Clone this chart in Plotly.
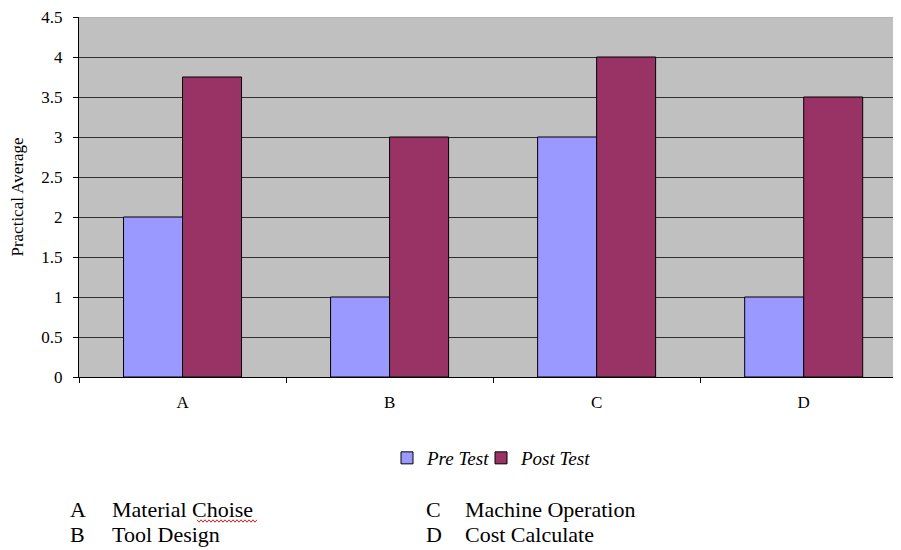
import plotly.graph_objects as go

categories = ["A", "B", "C", "D"]
pre_test = [2, 1, 3, 1]
post_test = [3.75, 3, 4, 3.5]
y_ticks = [0, 0.5, 1, 1.5, 2, 2.5, 3, 3.5, 4, 4.5]
key_letters = ["A", "B", "C", "D"]
key_names = ["Material Choise", "Tool Design", "Machine Operation", "Cost Calculate"]

SERIF = "Liberation Serif, Times New Roman, serif"

fig = go.Figure()
fig.add_trace(go.Bar(name="Pre Test", x=categories, y=pre_test,
                     marker=dict(color="#9999FF", line=dict(color="#000000", width=1))))
fig.add_trace(go.Bar(name="Post Test", x=categories, y=post_test,
                     marker=dict(color="#993366", line=dict(color="#000000", width=1))))
# invisible spacer entry so the last legend label is not clipped
fig.add_trace(go.Scatter(name=" ", x=[categories[0]], y=[0], mode="markers", hoverinfo="skip",
                         marker=dict(color="rgba(0,0,0,0)", size=1,
                                     line=dict(color="rgba(0,0,0,0)", width=0))))

OFF = 8  # page body margin
W, H = 901 - OFF, 550 - OFF
L, T, R = 79 - OFF, 17 - OFF, 0
B = H - (377 - OFF)
pw, ph = W - L - R, H - T - B

def px(x):
    return (x - OFF - L) / pw

def py(y):
    return (H - B - (y - OFF)) / ph

annotations = []
col_x = [(68, 110), (68, 110), (424, 463), (424, 463)]
row_y = [509, 534, 509, 534]
for i in range(4):
    lx, nx = col_x[i]
    annotations.append(dict(x=px(lx), y=py(row_y[i]), xref="paper", yref="paper",
                            text=key_letters[i], showarrow=False, xanchor="left",
                            yanchor="middle", font=dict(family=SERIF, size=22, color="#000")))
    annotations.append(dict(x=px(nx), y=py(row_y[i]), xref="paper", yref="paper",
                            text=key_names[i], showarrow=False, xanchor="left",
                            yanchor="middle", font=dict(family=SERIF, size=22, color="#000")))

# red wavy spell-check underline under "Choise"
x0, x1, yb = 197, 257, 521
pts = []
x = x0
k = 0
while x <= x1:
    yy = yb + (1.2 if k % 2 else -1.2)
    pts.append((px(x), py(yy)))
    x += 2
    k += 1
path = "M " + " L ".join(f"{a:.5f},{b:.5f}" for a, b in pts)

shapes = [
    dict(type="path", path=path, xref="paper", yref="paper",
         line=dict(color="#E02020", width=1)),
    dict(type="line", xref="paper", yref="y", x0=0, x1=1, y0=4.5, y1=4.5,
         line=dict(color="#A8A8A8", width=1), layer="above"),
]

fig.update_layout(
    width=W, height=H,
    margin=dict(l=L, r=R, t=T, b=B),
    paper_bgcolor="white",
    plot_bgcolor="#C0C0C0",
    barmode="group",
    bargap=0.43,
    bargroupgap=0,
    font=dict(family=SERIF, color="#000"),
    xaxis=dict(range=[-0.5, 3.47], showgrid=False, showline=True, linecolor="#000",
               linewidth=1, ticks="outside", ticklen=5, tickcolor="#000",
               tickson="boundaries", tickfont=dict(family=SERIF, size=17),
               ticklabelstandoff=10),
    yaxis=dict(range=[0, 4.5], tickvals=y_ticks, ticktext=[f"{v:g}" for v in y_ticks],
               showgrid=True, gridcolor="#303030", gridwidth=1,
               showline=True, linecolor="#000", linewidth=1, ticks="outside",
               ticklen=5, tickcolor="#000", tickfont=dict(family=SERIF, size=17),
               ticklabelstandoff=7, zeroline=False, ticklabeloverflow="allow",
               title=dict(text="Practical Average", font=dict(family=SERIF, size=17),
                          standoff=14)),
    showlegend=True,
    legend=dict(orientation="h", x=px(387), xanchor="left",
                y=py(458), yanchor="middle", itemwidth=30, entrywidth=49,
                font=dict(family=SERIF, size=19, style="italic"),
                bgcolor="rgba(0,0,0,0)", traceorder="normal"),
    annotations=annotations,
    shapes=shapes,
)

fig.write_html("out.html")
